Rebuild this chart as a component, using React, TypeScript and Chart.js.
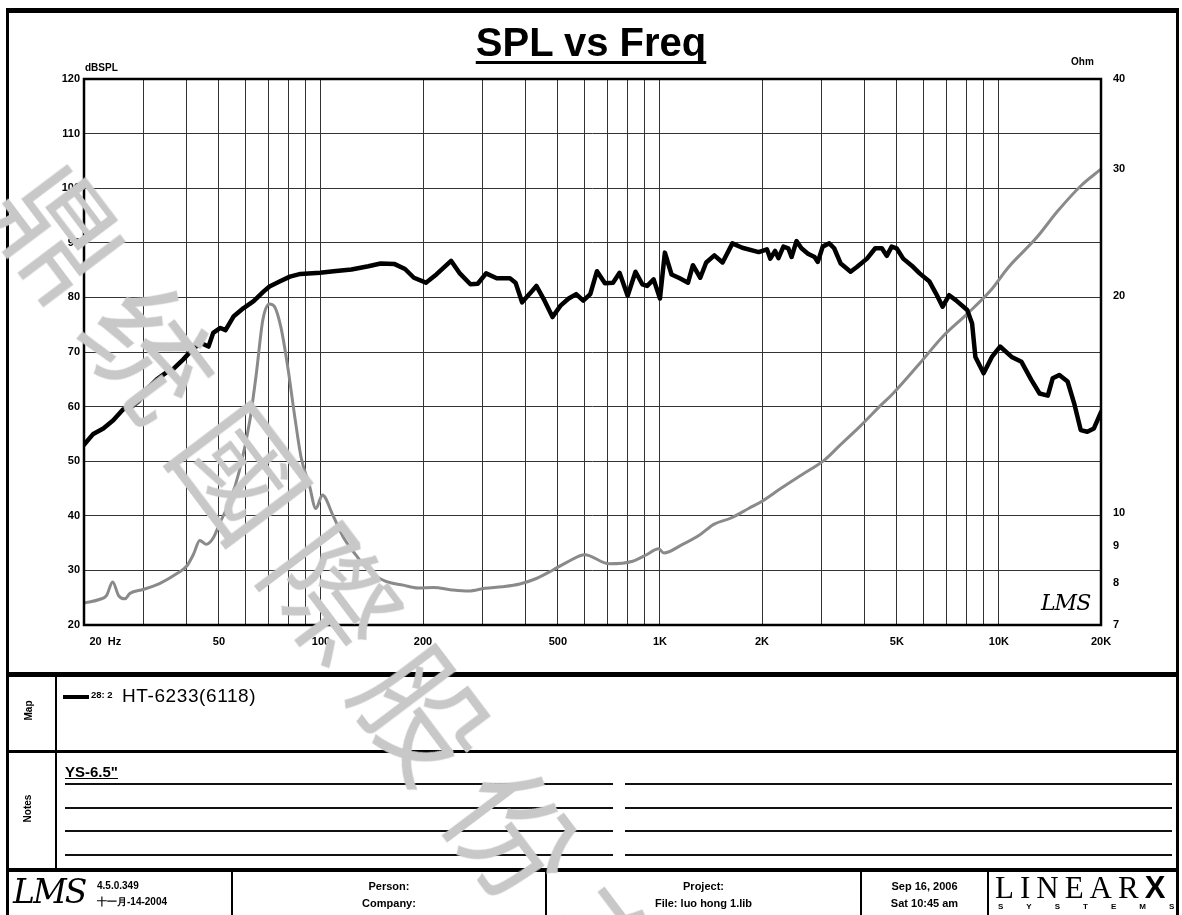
import React, { useEffect, useRef } from 'react';
import { Chart, registerables } from 'chart.js';

Chart.register(...registerables);

// SPL response (black curve), Hz / dBSPL
const splFreq = [20, 21.3, 22.8, 24.4, 26.1, 27.7, 29, 30.7, 32.8, 35.1, 36.7, 39.2, 42.1, 44.4, 46.6, 48.1, 50.5, 52.3, 55.2, 59, 63.3, 67.8, 70.5, 75.5, 81, 87, 99.4, 109, 123, 138, 150, 165, 177, 188, 204, 219, 242, 256, 276, 290, 307, 330, 361, 375, 392, 412, 432, 454, 482, 509, 538, 566, 594, 623, 652, 688, 727, 760, 803, 847, 887, 917, 958, 1000, 1034, 1082, 1144, 1210, 1251, 1315, 1369, 1447, 1530, 1636, 1749, 1956, 2068, 2116, 2186, 2236, 2313, 2391, 2445, 2528, 2615, 2733, 2858, 2922, 3021, 3159, 3265, 3414, 3651, 3817, 4081, 4316, 4514, 4667, 4826, 4990, 5218, 5579, 5834, 6238, 6522, 6820, 7131, 7456, 8060, 8333, 8521, 9011, 9530, 10078, 10899, 11653, 12459, 13178, 13937, 14411, 15071, 15939, 16667, 17427, 18224, 19057, 20000];
const splDb = [53, 55, 56, 57.5, 59.5, 60, 61, 63.2, 65, 66.3, 66.9, 68.6, 70.7, 71.6, 71, 73.5, 74.4, 74, 76.5, 78, 79.3, 81.1, 82, 82.9, 83.8, 84.3, 84.5, 84.8, 85.1, 85.7, 86.2, 86.1, 85.2, 83.6, 82.7, 84.2, 86.7, 84.5, 82.4, 82.5, 84.4, 83.5, 83.5, 82.7, 79.1, 80.6, 82.1, 79.7, 76.4, 78.5, 79.8, 80.6, 79.4, 80.6, 84.8, 82.6, 82.7, 84.5, 80.3, 84.7, 82.4, 82.1, 83.3, 79.8, 88.2, 84.2, 83.5, 82.7, 85.9, 83.6, 86.4, 87.7, 86.4, 89.9, 89.1, 88.3, 88.8, 87.1, 88.5, 87.2, 89.3, 89, 87.4, 90.3, 89, 88, 87.4, 86.5, 89.3, 89.9, 89, 86.2, 84.7, 85.6, 87.1, 89, 89, 87.6, 89.3, 89, 87.1, 85.6, 84.4, 82.9, 80.7, 78.3, 80.4, 79.5, 77.7, 75.2, 69.1, 66.1, 69.1, 71, 69.1, 68.2, 64.9, 62.4, 62, 65.2, 65.8, 64.6, 60.6, 55.7, 55.4, 56, 59];

// Impedance (grey curve), Hz / Ohm
const impFreq = [20, 22.3, 23.3, 24.3, 25.3, 26.4, 27.3, 29.9, 33.4, 37.6, 40.2, 42.1, 43.9, 45.9, 48.1, 50.4, 53.9, 57.6, 61.6, 64.4, 67.4, 70.5, 72.8, 76.2, 79.8, 83.5, 87.4, 92.4, 96.6, 101, 108.3, 116.2, 125, 137.6, 154.8, 174.9, 193.2, 215, 243, 272.6, 305, 343, 386, 432, 485, 531, 600, 708, 831, 913, 991, 1027, 1159, 1309, 1441, 1621, 1831, 2007, 2270, 2622, 3055, 3393, 3912, 4478, 4870, 5834, 6820, 8060, 9431, 10654, 12900, 14905, 17427, 20000];
const impOhm = [7.51, 7.6, 7.69, 8.03, 7.69, 7.61, 7.74, 7.84, 7.99, 8.25, 8.45, 8.78, 9.17, 9.06, 9.24, 9.71, 10.4, 11.5, 13.39, 15.55, 18.55, 19.51, 19.37, 18.1, 15.96, 13.72, 11.95, 10.94, 10.15, 10.6, 9.95, 9.28, 8.83, 8.35, 8.05, 7.95, 7.88, 7.89, 7.83, 7.8, 7.87, 7.91, 7.98, 8.12, 8.35, 8.55, 8.76, 8.51, 8.58, 8.76, 8.93, 8.81, 9.04, 9.33, 9.65, 9.85, 10.16, 10.4, 10.82, 11.31, 11.85, 12.42, 13.23, 14.11, 14.66, 16.13, 17.57, 18.9, 20.34, 21.92, 24.09, 26.24, 28.43, 30];

// Axis ticks
const xGridTicks = [20, 30, 40, 50, 60, 70, 80, 90, 100, 200, 300, 400, 500, 600, 700, 800, 900, 1000, 2000, 3000, 4000, 5000, 6000, 7000, 8000, 9000, 10000, 20000];
const xLabelValues = [20, 50, 100, 200, 500, 1000, 2000, 5000, 10000, 20000];
const xLabelTexts = ['              20  Hz', '50', '100', '200', '500', '1K', '2K', '5K', '10K', '20K'];
const ohmTicks = [7, 8, 9, 10, 20, 30, 40];

const FONT = '"Liberation Sans", Arial, Helvetica, sans-serif';

const borderPlugin = {
  id: 'plotBorder',
  afterDatasetsDraw(chart: any) {
    const { ctx, chartArea: a } = chart;
    ctx.save();
    ctx.strokeStyle = '#000';
    ctx.lineWidth = 2.5;
    ctx.strokeRect(a.left, a.top, a.right - a.left, a.bottom - a.top);
    ctx.restore();
  },
};

function SplChart() {
  const ref = useRef<HTMLCanvasElement | null>(null);
  useEffect(() => {
    if (!ref.current) return;
    const tickFont = { family: FONT, size: 11, weight: 'bold' as const };
    const chart = new Chart(ref.current, {
      type: 'line',
      data: {
        datasets: [
          {
            label: 'SPL',
            data: splFreq.map((f, i) => ({ x: f, y: splDb[i] })),
            borderColor: '#000',
            borderWidth: 4.5,
            pointRadius: 0,
            tension: 0,
            borderJoinStyle: 'round',
            borderCapStyle: 'round',
            yAxisID: 'y',
          },
          {
            label: 'Impedance',
            data: impFreq.map((f, i) => ({ x: f, y: impOhm[i] })),
            borderColor: '#8a8a8a',
            borderWidth: 3,
            pointRadius: 0,
            cubicInterpolationMode: 'monotone',
            yAxisID: 'y1',
          },
        ],
      },
      options: {
        animation: false,
        responsive: false,
        maintainAspectRatio: false,
        events: [],
        layout: { padding: { top: 79, left: 0, right: 0, bottom: 0 } },
        plugins: { legend: { display: false }, tooltip: { enabled: false }, title: { display: false } },
        scales: {
          x: {
            type: 'logarithmic',
            min: 20,
            max: 20000,
            afterBuildTicks: (s: any) => {
              s.ticks = xGridTicks.map((v) => ({ value: v }));
            },
            afterFit: (s: any) => {
              s.height = 290;
            },
            grid: { color: '#333', lineWidth: 1, drawTicks: false },
            border: { display: false },
            ticks: {
              autoSkip: false,
              maxRotation: 0,
              minRotation: 0,
              padding: 10,
              color: '#000',
              font: tickFont,
              callback: (v: any) => {
                const i = xLabelValues.indexOf(Number(v));
                return i >= 0 ? xLabelTexts[i] : '';
              },
            },
          },
          y: {
            type: 'linear',
            position: 'left',
            min: 20,
            max: 120,
            afterFit: (s: any) => {
              s.width = 84;
            },
            grid: { color: '#333', lineWidth: 1, drawTicks: false },
            border: { display: false },
            ticks: { stepSize: 10, padding: 4, color: '#000', font: tickFont },
          },
          y1: {
            type: 'logarithmic',
            position: 'right',
            min: 7,
            max: 40,
            afterBuildTicks: (s: any) => {
              s.ticks = ohmTicks.map((v) => ({ value: v }));
            },
            afterFit: (s: any) => {
              s.width = 81;
            },
            grid: { display: false },
            border: { display: false },
            ticks: { padding: 4, color: '#000', font: tickFont, callback: (v: any) => String(v) },
          },
        },
      },
      plugins: [borderPlugin],
    } as any);
    return () => chart.destroy();
  }, []);
  return <canvas ref={ref} width={1182} height={915} style={{ position: 'absolute', left: 0, top: 0, width: 1182, height: 915 }} />;
}

const abs = (left: number, top: number, extra: React.CSSProperties = {}): React.CSSProperties => ({
  position: 'absolute',
  left,
  top,
  ...extra,
});

const hLine = (left: number, top: number, width: number, h: number, color = '#000') => (
  <div style={abs(left, top, { width, height: h, background: color })} />
);
const vLine = (left: number, top: number, height: number, w: number) => (
  <div style={abs(left, top, { width: w, height, background: '#000' })} />
);

export default function App() {
  const noteLines = [783, 807, 830, 854];
  const footCell = (left: number, width: number, l1: string, l2: string) => (
    <div
      style={abs(left, 874, {
        width,
        height: 41,
        display: 'flex',
        flexDirection: 'column',
        alignItems: 'center',
        justifyContent: 'center',
        fontWeight: 'bold',
        fontSize: 11,
        lineHeight: '17px',
      })}
    >
      <div>{l1}</div>
      <div>{l2}</div>
    </div>
  );
  return (
    <div
      style={{
        position: 'absolute',
        left: 0,
        top: 0,
        width: 1182,
        height: 915,
        overflow: 'hidden',
        background: '#fff',
        fontFamily: FONT,
        color: '#000',
      }}
    >
      {/* outer frame */}
      <div
        style={abs(6, 8, {
          width: 1173,
          height: 920,
          boxSizing: 'border-box',
          borderLeft: '3px solid #000',
          borderRight: '3px solid #000',
          borderTop: '5px solid #000',
        })}
      />
      {/* section separators */}
      {hLine(6, 672, 1173, 5)}
      {hLine(6, 750, 1173, 3)}
      {hLine(6, 868, 1173, 4)}
      {vLine(55, 676, 193, 2)}
      {vLine(231, 871, 50, 2)}
      {vLine(545, 871, 50, 2)}
      {vLine(860, 871, 50, 2)}
      {vLine(987, 871, 50, 2)}

      <SplChart />

      {/* title */}
      <div
        style={abs(0, 20, {
          width: 1182,
          textAlign: 'center',
          fontSize: 40,
          fontWeight: 'bold',
          lineHeight: '44px',
          textDecoration: 'underline',
          textDecorationThickness: 3,
          textUnderlineOffset: 5,
          textDecorationSkipInk: 'none',
        } as React.CSSProperties)}
      >
        SPL vs Freq
      </div>
      <div style={abs(85, 62, { fontSize: 10, fontWeight: 'bold' })}>dBSPL</div>
      <div style={abs(1071, 56, { fontSize: 10, fontWeight: 'bold' })}>Ohm</div>
      <div style={abs(1041, 590, { fontSize: 22, fontStyle: 'italic', fontFamily: '"DejaVu Serif", serif', letterSpacing: -1 })}>
        LMS
      </div>

      {/* Map section */}
      <div style={abs(18, 705, { fontSize: 10, fontWeight: 'bold', transform: 'rotate(-90deg)', transformOrigin: 'center' })}>Map</div>
      {hLine(63, 695, 26, 4)}
      <div style={abs(91, 689, { fontSize: 9.5, fontWeight: 'bold' })}>28: 2</div>
      <div style={abs(122, 685, { fontSize: 19, letterSpacing: 0.6 })}>HT-6233(6118)</div>

      {/* Notes section */}
      <div style={abs(14, 803, { fontSize: 10, fontWeight: 'bold', transform: 'rotate(-90deg)', transformOrigin: 'center' })}>Notes</div>
      <div style={abs(65, 763, { fontSize: 15, fontWeight: 'bold', textDecoration: 'underline' })}>YS-6.5"</div>
      {noteLines.map((y) => (
        <React.Fragment key={y}>
          {hLine(65, y, 548, 2, '#111')}
          {hLine(625, y, 547, 2, '#111')}
        </React.Fragment>
      ))}

      {/* Footer */}
      <div style={abs(13, 872, { fontSize: 33, fontStyle: 'italic', fontFamily: '"DejaVu Serif", serif', letterSpacing: -2 })}>LMS</div>
      <div style={abs(97, 878, { fontSize: 10, fontWeight: 'bold', lineHeight: '16px' })}>
        <div>4.5.0.349</div>
        <div>十一月-14-2004</div>
      </div>
      {footCell(233, 312, 'Person:', 'Company:')}
      {footCell(547, 313, 'Project:', 'File: luo hong 1.lib')}
      {footCell(862, 125, 'Sep 16, 2006', 'Sat 10:45 am')}
      <div style={abs(995, 871, { fontSize: 31, fontFamily: '"Liberation Serif", serif', letterSpacing: 6, lineHeight: '34px' })}>
        LINEAR<span style={{ fontFamily: FONT, fontWeight: 900, letterSpacing: 0 }}>X</span>
      </div>
      <div style={abs(998, 902, { fontSize: 8, fontWeight: 'bold', letterSpacing: 23 })}>SYSTEMS</div>

      {/* watermark */}
      <div
        style={abs(27, 115, {
          fontSize: 125,
          lineHeight: '125px',
          whiteSpace: 'nowrap',
          color: '#c8c8c8',
          letterSpacing: 26,
          fontFamily: '"Noto Sans CJK TC", "Noto Sans CJK SC", sans-serif',
          transformOrigin: '0 50%',
          transform: 'rotate(53deg)',
          pointerEvents: 'none',
        })}
      >
        鼎统國際股份有
      </div>
    </div>
  );
}
